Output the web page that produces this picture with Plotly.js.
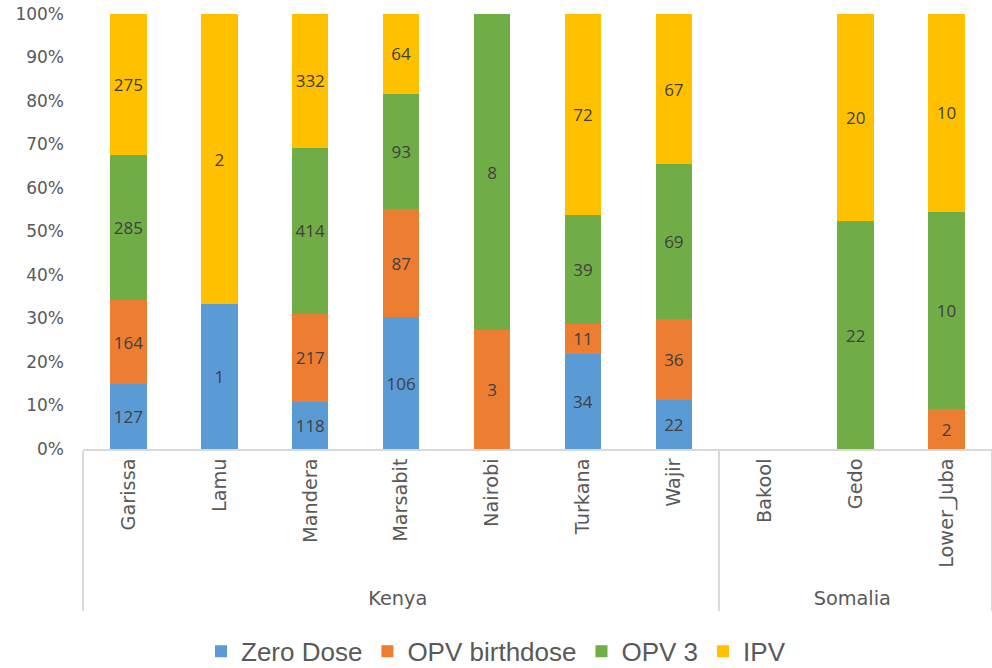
<!DOCTYPE html>
<html><head><meta charset="utf-8">
<script src="https://cdn.plot.ly/plotly-3.0.1.min.js"></script>
<style>body{margin:0;background:#fff}#chart{width:992px;height:668px}</style>
</head><body><div id="chart"></div>
<script>
const countries = ["Kenya","Kenya","Kenya","Kenya","Kenya","Kenya","Kenya","Somalia","Somalia","Somalia"];
const regions = ["Garissa","Lamu","Mandera","Marsabit","Nairobi","Turkana","Wajir","Bakool","Gedo","Lower_Juba"];
const zeroDose = [127,1,118,106,null,34,22,null,null,null];
const opvBirth = [164,null,217,87,3,11,36,null,null,2];
const opv3 = [285,null,414,93,8,39,69,null,22,10];
const ipv = [275,2,332,64,null,72,67,null,20,10];
const seriesNames = ["Zero Dose","OPV birthdose","OPV 3","IPV"];
const yTickVals = [0,10,20,30,40,50,60,70,80,90,100];
const yTickText = ["0%","10%","20%","30%","40%","50%","60%","70%","80%","90%","100%"];
const colors = ["#5B9BD5","#ED7D31","#70AD47","#FFC000"];
const vals = [zeroDose,opvBirth,opv3,ipv];
const traces = vals.map((v,i)=>({
  type:"bar", name:seriesNames[i], x:[countries,regions], y:v,
  marker:{color:colors[i]}, text:v.map(d=>d==null?"":String(d)),
  texttemplate:"%{text}", textposition:"inside", insidetextanchor:"middle",
  textangle:0, constraintext:"none",
  textfont:{family:"Open Sans, sans-serif",size:17,color:"#404040"},
  hoverinfo:"name+y"
}));
Plotly.newPlot("chart",traces,{
  width:992,height:668,barmode:"stack",barnorm:"percent",bargap:0.6,
  paper_bgcolor:"#fff",plot_bgcolor:"#fff",
  margin:{l:83,r:0,t:14,b:219},
  font:{family:"Open Sans, sans-serif",color:"#595959"},
  xaxis:{type:"multicategory",tickangle:-90,showline:true,linecolor:"#D9D9D9",linewidth:1.5,
    automargin:false,
    showdividers:true,dividercolor:"#D9D9D9",dividerwidth:1.5,ticks:"",
    tickfont:{family:"DejaVu Sans, sans-serif",size:19.3,color:"#595959"}},
  yaxis:{range:[0,100],tickvals:yTickVals,ticktext:yTickText,automargin:false,
    showgrid:false,zeroline:false,showline:false,ticks:"",ticklabelstandoff:18,
    tickfont:{family:"DejaVu Sans, sans-serif",size:17,color:"#595959"}},
  legend:{orientation:"h",traceorder:"normal",x:0.5,xanchor:"center",xref:"container",
    y:0.025,yanchor:"middle",yref:"container",
    font:{family:"Liberation Sans Narrow, Liberation Sans, sans-serif",size:26,color:"#595959"}},
  showlegend:true
},{displayModeBar:false});
</script></body></html>
